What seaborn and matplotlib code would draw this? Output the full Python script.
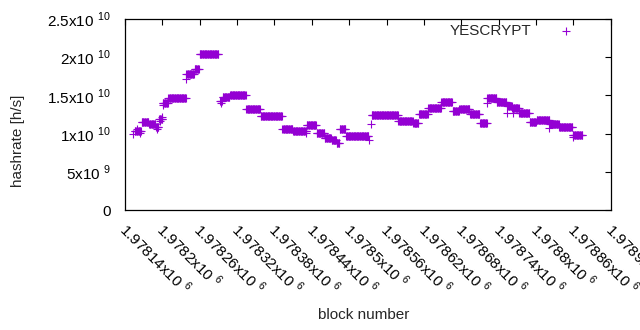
import numpy as np
import pandas as pd
import matplotlib
matplotlib.use("Agg")
import matplotlib.pyplot as plt
import matplotlib.transforms as mtransforms
import seaborn as sns

# hashrate plateaus: block offsets from 1978140, hashrate in 1e10 h/s
plateau_start = [16, 27, 39, 50, 55, 61, 70, 99, 112, 120, 153, 157, 169, 195, 218,
                 253, 270, 292, 308, 321, 332, 340, 345, 355, 396, 439, 463, 472, 487,
                 508, 526, 537, 554, 570, 582, 597, 614, 622, 633, 650, 661, 682, 697, 719]
plateau_end = [27, 39, 50, 55, 61, 70, 99, 112, 120, 151, 157, 169, 195, 218, 253,
               270, 292, 308, 321, 332, 340, 345, 355, 392, 439, 463, 472, 487, 508,
               526, 537, 554, 570, 582, 597, 613, 622, 633, 650, 661, 682, 697, 719, 735]
plateau_rate = [1.034, 1.148, 1.122, 1.08, 1.185, 1.397, 1.462, 1.78, 1.84, 2.038, 1.43,
                1.479, 1.50, 1.318, 1.23, 1.056, 1.034, 1.109, 1.004, 0.946, 0.91, 0.875,
                1.056, 0.965, 1.243, 1.169, 1.135, 1.253, 1.331, 1.41, 1.292, 1.326, 1.26,
                1.143, 1.462, 1.42, 1.357, 1.331, 1.266, 1.156, 1.178, 1.126, 1.082, 0.982]

# single blocks that stick out of the plateaus
stray_block = [13, 20, 24, 52, 57, 60, 62, 99, 155, 290, 392, 395, 581, 613, 623, 681, 720]
stray_rate = [1.00, 1.06, 1.01, 1.06, 1.16, 1.22, 1.37, 1.71, 1.40, 1.01, 0.916, 1.12,
              1.405, 1.274, 1.266, 1.069, 0.96]

first_block = 1978140
x_ticks = [1978140, 1978200, 1978260, 1978320, 1978380, 1978440, 1978500,
           1978560, 1978620, 1978680, 1978740, 1978800, 1978860, 1978920]
y_ticks = [0, 5e9, 1e10, 1.5e10, 2e10, 2.5e10]
y_labels = ["0", r"5x10 $^{\mathrm{9}}$", r"1x10 $^{\mathrm{10}}$", r"1.5x10 $^{\mathrm{10}}$",
            r"2x10 $^{\mathrm{10}}$", r"2.5x10 $^{\mathrm{10}}$"]

blocks = []
rates = []
for s, e, r in zip(plateau_start, plateau_end, plateau_rate):
    for b in range(s, e):
        blocks.append(first_block + b)
        rates.append(r * 1e10)
for b, r in zip(stray_block, stray_rate):
    blocks.append(first_block + b)
    rates.append(r * 1e10)

df = pd.DataFrame({"block": blocks, "hashrate": rates, "algo": "YESCRYPT"})

sns.set_style("white")
plt.rcParams["font.family"] = ["Liberation Sans", "DejaVu Sans"]
plt.rcParams["mathtext.fontset"] = "custom"
plt.rcParams["mathtext.rm"] = "Liberation Sans"
plt.rcParams["font.size"] = 11

fig = plt.figure(figsize=(6.4, 3.3), dpi=100)
ax = fig.add_axes([0.195, 0.3636, 0.7595, 0.5788])

sns.scatterplot(data=df, x="block", y="hashrate", marker="+", color="#9400d3",
                s=26, linewidth=0.8, label="YESCRYPT", ax=ax)

ax.set_xlim(1978140, 1978920)
ax.set_ylim(0, 2.5e10)
ax.set_xticks(x_ticks)
ax.set_xticklabels([f"{v / 1e6:.6g}x10 " + r"$^{\mathrm{6}}$" for v in x_ticks],
                   rotation=-45, ha="left", va="baseline", rotation_mode="anchor")
ax.set_yticks(y_ticks)
ax.set_yticklabels(y_labels)
ax.tick_params(axis="both", direction="in", top=True, right=True, length=4,
               width=0.8, colors="black", labelsize=11)
ax.tick_params(axis="x", pad=15)
ax.tick_params(axis="y", pad=10)
# gnuplot starts the rotated labels a little left of the tick
shift = mtransforms.ScaledTranslation(-7 / 100, 0, fig.dpi_scale_trans)
for lab in ax.get_xticklabels():
    lab.set_transform(lab.get_transform() + shift)
for sp in ax.spines.values():
    sp.set_color("black")
    sp.set_linewidth(0.9)

ax.set_xlabel("")
ax.set_ylabel("")
fig.text(364 / 640, 1 - 315 / 330, "block number", ha="center", va="center", fontsize=11)
fig.text(18 / 640, 1 - 141 / 330, "hashrate [h/s]", ha="center", va="center",
         rotation=90, fontsize=11)

ax.legend(loc="upper right", bbox_to_anchor=(0.94, 0.976), markerfirst=False,
          frameon=False, handletextpad=1.3, borderpad=0, borderaxespad=0,
          handlelength=2, fontsize=11)

fig.savefig("out.png", dpi=100)
